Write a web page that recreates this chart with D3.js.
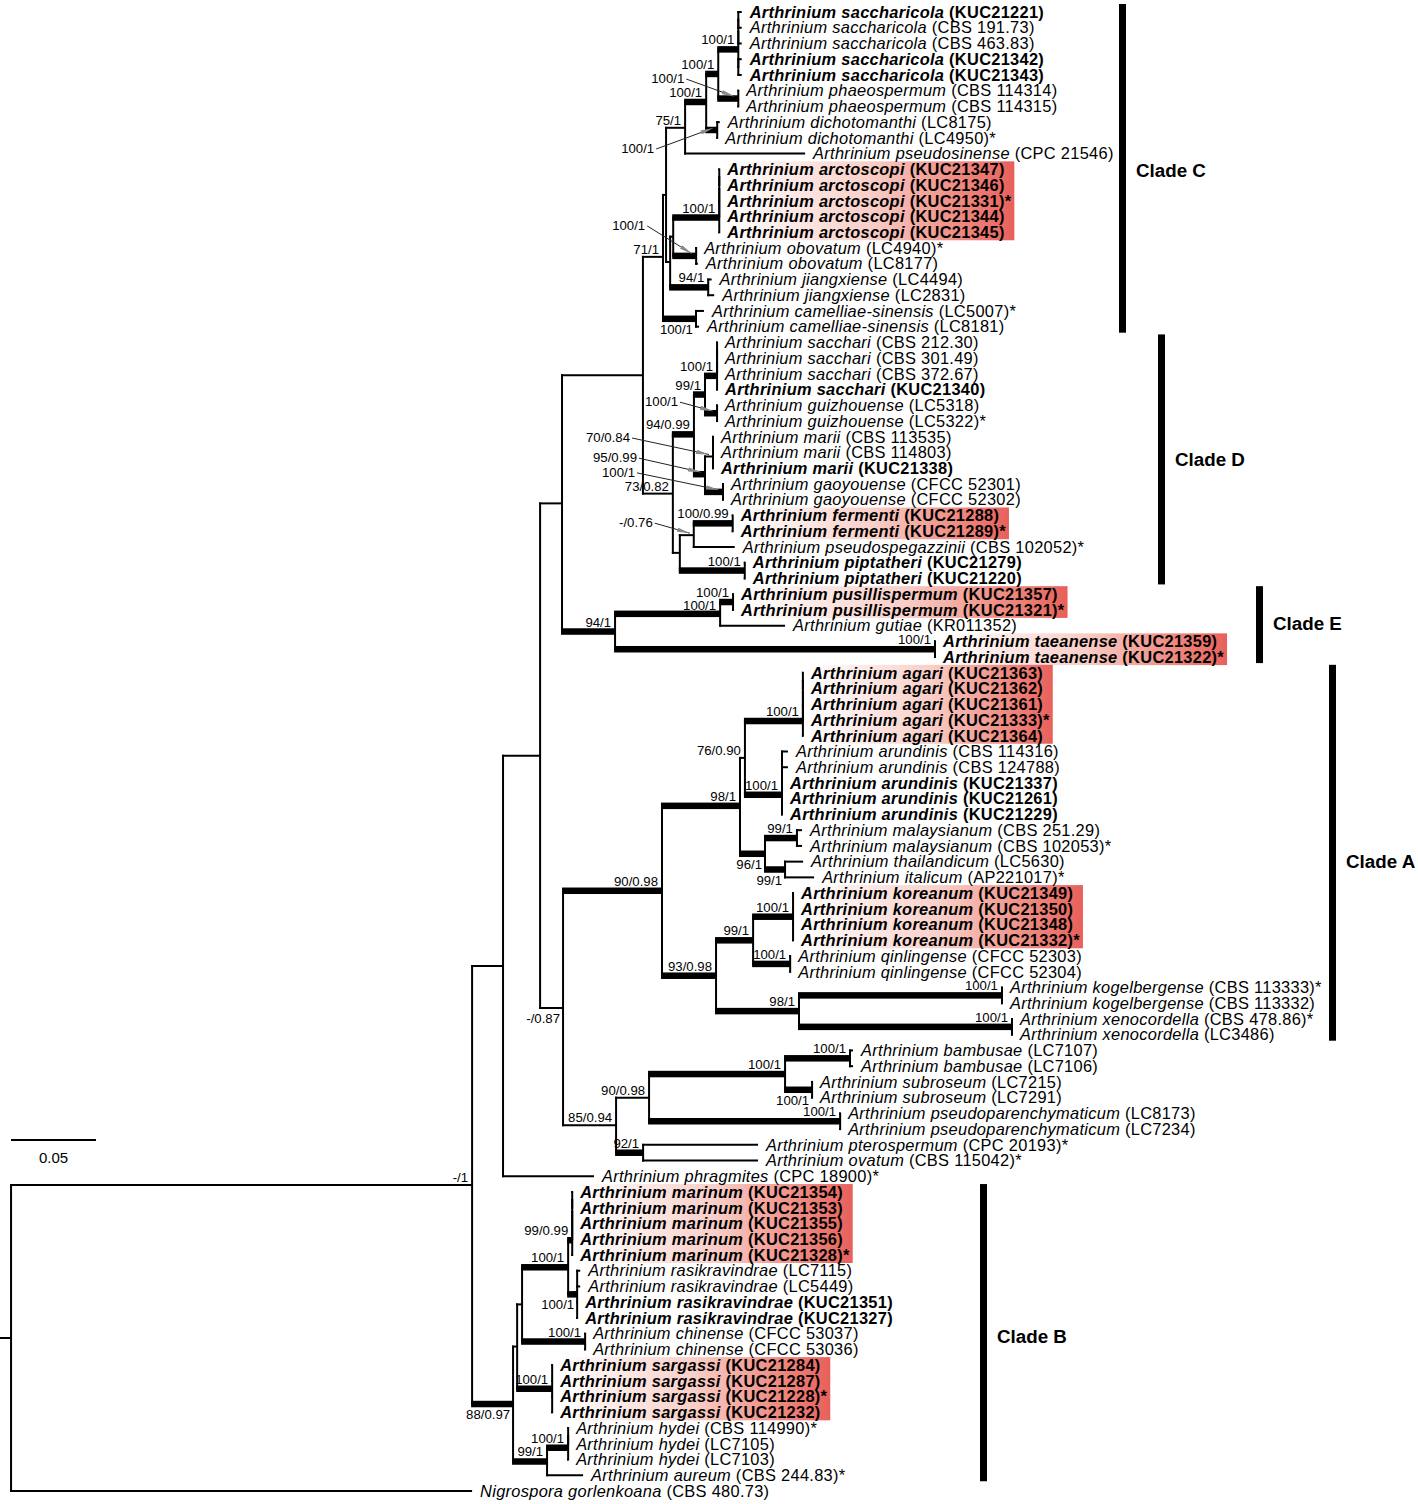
<!DOCTYPE html>
<html><head><meta charset="utf-8">
<script src="https://cdn.jsdelivr.net/npm/d3@7"></script>
<style>body{margin:0;background:#fff}svg{display:block}</style>
</head><body>
<svg id="chart" width="1418" height="1504"></svg>
<script>
// ---------------- DATA ----------------
const species = [
"Arthrinium saccharicola","Arthrinium saccharicola","Arthrinium saccharicola","Arthrinium saccharicola","Arthrinium saccharicola",
"Arthrinium phaeospermum","Arthrinium phaeospermum","Arthrinium dichotomanthi","Arthrinium dichotomanthi","Arthrinium pseudosinense",
"Arthrinium arctoscopi","Arthrinium arctoscopi","Arthrinium arctoscopi","Arthrinium arctoscopi","Arthrinium arctoscopi",
"Arthrinium obovatum","Arthrinium obovatum","Arthrinium jiangxiense","Arthrinium jiangxiense","Arthrinium camelliae-sinensis",
"Arthrinium camelliae-sinensis","Arthrinium sacchari","Arthrinium sacchari","Arthrinium sacchari","Arthrinium sacchari",
"Arthrinium guizhouense","Arthrinium guizhouense","Arthrinium marii","Arthrinium marii","Arthrinium marii",
"Arthrinium gaoyouense","Arthrinium gaoyouense","Arthrinium fermenti","Arthrinium fermenti","Arthrinium pseudospegazzinii",
"Arthrinium piptatheri","Arthrinium piptatheri","Arthrinium pusillispermum","Arthrinium pusillispermum","Arthrinium gutiae",
"Arthrinium taeanense","Arthrinium taeanense","Arthrinium agari","Arthrinium agari","Arthrinium agari",
"Arthrinium agari","Arthrinium agari","Arthrinium arundinis","Arthrinium arundinis","Arthrinium arundinis",
"Arthrinium arundinis","Arthrinium arundinis","Arthrinium malaysianum","Arthrinium malaysianum","Arthrinium thailandicum",
"Arthrinium italicum","Arthrinium koreanum","Arthrinium koreanum","Arthrinium koreanum","Arthrinium koreanum",
"Arthrinium qinlingense","Arthrinium qinlingense","Arthrinium kogelbergense","Arthrinium kogelbergense","Arthrinium xenocordella",
"Arthrinium xenocordella","Arthrinium bambusae","Arthrinium bambusae","Arthrinium subroseum","Arthrinium subroseum",
"Arthrinium pseudoparenchymaticum","Arthrinium pseudoparenchymaticum","Arthrinium pterospermum","Arthrinium ovatum","Arthrinium phragmites",
"Arthrinium marinum","Arthrinium marinum","Arthrinium marinum","Arthrinium marinum","Arthrinium marinum",
"Arthrinium rasikravindrae","Arthrinium rasikravindrae","Arthrinium rasikravindrae","Arthrinium rasikravindrae","Arthrinium chinense",
"Arthrinium chinense","Arthrinium sargassi","Arthrinium sargassi","Arthrinium sargassi","Arthrinium sargassi",
"Arthrinium hydei","Arthrinium hydei","Arthrinium hydei","Arthrinium aureum","Nigrospora gorlenkoana"
];
const strains = [
"KUC21221","CBS 191.73","CBS 463.83","KUC21342","KUC21343",
"CBS 114314","CBS 114315","LC8175","LC4950","CPC 21546",
"KUC21347","KUC21346","KUC21331","KUC21344","KUC21345",
"LC4940","LC8177","LC4494","LC2831","LC5007",
"LC8181","CBS 212.30","CBS 301.49","CBS 372.67","KUC21340",
"LC5318","LC5322","CBS 113535","CBS 114803","KUC21338",
"CFCC 52301","CFCC 52302","KUC21288","KUC21289","CBS 102052",
"KUC21279","KUC21220","KUC21357","KUC21321","KR011352",
"KUC21359","KUC21322","KUC21363","KUC21362","KUC21361",
"KUC21333","KUC21364","CBS 114316","CBS 124788","KUC21337",
"KUC21261","KUC21229","CBS 251.29","CBS 102053","LC5630",
"AP221017","KUC21349","KUC21350","KUC21348","KUC21332",
"CFCC 52303","CFCC 52304","CBS 113333","CBS 113332","CBS 478.86",
"LC3486","LC7107","LC7106","LC7215","LC7291",
"LC8173","LC7234","CPC 20193","CBS 115042","CPC 18900",
"KUC21354","KUC21353","KUC21355","KUC21356","KUC21328",
"LC7115","LC5449","KUC21351","KUC21327","CFCC 53037",
"CFCC 53036","KUC21284","KUC21287","KUC21228","KUC21232",
"CBS 114990","LC7105","LC7103","CBS 244.83","CBS 480.73"
];
// leaves (1-based) that are ex-type strains (marked with *)
const typeStrains = [9,13,16,20,27,34,35,39,42,46,54,56,60,63,65,73,74,75,80,89,91,94];
// newly described species (highlighted)
const newSpecies = ["Arthrinium arctoscopi","Arthrinium fermenti","Arthrinium pusillispermum","Arthrinium taeanense",
  "Arthrinium agari","Arthrinium koreanum","Arthrinium marinum","Arthrinium sargassi"];
// clades: first and last leaf (1-based)
const cladeNames = ["Clade C","Clade D","Clade E","Clade A","Clade B"];
const cladeFirst = [1,22,38,43,76];
const cladeLast  = [21,37,42,66,94];
const scaleBarValue = 0.05;

// Tree topology (Newick): leaves are leaf numbers; internal labels = ML/BPP support,
// "#" = strongly supported (bold branch), "@id" = node id
const cladeC_top = "((((((1:0.002,2:0.002),3:0.002),(4:0.002,5:0.002))#100/1:0.0118,(6,7)#100/1@pha:0.0118)#100/1:0.0071,(8:0.0015,9)#100/1@dic:0.0065)#100/1:0.0124,10:0.0706)75/1:0.0112";
const cladeC_mid = "((((((11,12),13),14),15)#100/1:0.0271,(16,17:0.001)#100/1@obo:0.0135):0.0018,(18:0.002,19:0.0035)#94/1:0.0224):0.0024";
const cladeC = `((${cladeC_top},${cladeC_mid}):0.0018,(20:0.0047,21:0.0018)#100/1@cam:0.0194)71/1:0.0118`;
const cladeD_top = "((((22,23),24),25)#100/1:0.0071,(26,27)#100/1@gui:0.0071)#99/1:0.0065";
const cladeD_mid = "(((28,29),30)70/0.84@mar:0.0047,(31,32)#100/1@gao:0.0106)#95/0.99@m95:0.0065";
const cladeD_low = "(((33,34)#100/0.99:0.0229,35:0.0241)-/0.76@f76:0.0082,(36,37)#100/1:0.0382):0.0041";
const cladeD = `((${cladeD_top},${cladeD_mid})#94/0.99:0.0124,${cladeD_low})73/0.82:0.0176`;
const cladeE = "(((38,39)#100/1:0.0076,40:0.0382)#100/1@pg:0.0618,(41,42)#100/1:0.1882)#94/1:0.0312";
const cladeA_top = "(((((43,44),45),46),47)#100/1:0.0341,(((48:0.0035,49:0.0035),(50,51)),52)#100/1:0.0218)76/0.90:0.0029";
const cladeA_mid = "((53:0.003,54:0.003)#99/1:0.0188,(55:0.0106,56:0.0171)#99/1@ti:0.0118)#96/1@m96:0.0147";
const cladeA_low = "(((57,58,59,60)#100/1:0.0235,(61,62)#100/1:0.0218)#99/1:0.0218,((63,64)#100/1:0.1194,(65,66)#100/1:0.1253)#98/1:0.0488)#93/0.98:0.0318";
const cladeA = `((${cladeA_top},${cladeA_mid})#98/1:0.0459,${cladeA_low})#90/0.98:0.0582`;
const otherClade = "((((67:0.0018,68:0.0018)#100/1:0.0382,(69,70)#100/1@sub:0.0159)#100/1:0.08,(71,72)#100/1:0.1124)90/0.98:0.0194,(73:0.0676,74:0.0676)#92/1:0.0159)85/0.94:0.0312";
const cladeB_top = "((((((76,77),78),79),80)#99/0.99:0.0024,(81:0.0018,82:0.0018,83,84)#100/1@ras:0.0053)#100/1:0.0271,(85,86)#100/1:0.0371):0.0029";
const cladeB = `((${cladeB_top},(87,88,89,90)#100/1:0.0206):0.0024,(((91,92),93)#100/1:0.0124,94:0.0212)#99/1:0.02)#88/0.97@b88:0.0241`;
const backbone = `(((((${cladeC},${cladeD}):0.0476,${cladeE}):0.0129,(${cladeA},${otherClade})-/0.87@n87:0.0135):0.0218,75:0.0535):0.0182,${cladeB})-/1:0.2712`;
const newick = `(${backbone},95:0.2712):0.0065;`;

// ---------------- LAYOUT ----------------
const layout = {
  leafTop: 12, leafBottom: 1491,
  scaleBarPx: 85,
  labelGap: 8,
  thin: 2, thick: 6.5,
  leafFont: 16.4, leafSpacing: 0.3, supportFont: 13.2, cladeFont: 18.8,
  cladeBarX: {"Clade C":1119,"Clade D":1158,"Clade E":1256,"Clade A":1329,"Clade B":980},
  cladeLabelDy: {"Clade C":2,"Clade D":0,"Clade E":-1,"Clade A":9,"Clade B":4},
  callouts: {pha:[-54,-15.5], dic:[-63,23], obo:[-51,-26], gui:[-39,-7], mar:[-83,-14.5], m95:[-68,-12], gao:[-88,-15], f76:[-41,-8]},
  below: ["cam","n87","b88","m96","ti","sub","ras"],
  scaleBar: {x:11, y:1140}
};
const FONT = "'Liberation Sans', Arial, Helvetica, sans-serif";

function parseNewick(s){
  let i = 0;
  function node(){
    const n = {};
    if (s[i] === "("){
      i++; n.children = [node()];
      while (s[i] === ","){ i++; n.children.push(node()); }
      i++;
    }
    let lab = "";
    while (i < s.length && !",():;".includes(s[i])) lab += s[i++];
    n.label = lab;
    n.length = 0;
    if (s[i] === ":"){ i++; let l = ""; while (i < s.length && !",();".includes(s[i])) l += s[i++]; n.length = +l; }
    return n;
  }
  return node();
}

const svg = d3.select("#chart").style("font-family", FONT);
const defs = svg.append("defs");
const grad = defs.append("linearGradient").attr("id","hl").attr("x1","0").attr("x2","1").attr("y1","0").attr("y2","0");
[[0,"#ffffff"],[0.5,"#f9cfc8"],[0.8,"#ef8c82"],[1,"#e8605a"]].forEach(([o,c]) => grad.append("stop").attr("offset",o).attr("stop-color",c));
defs.append("marker").attr("id","arrow").attr("viewBox","0 0 12 4").attr("refX",12).attr("refY",2)
  .attr("markerWidth",13).attr("markerHeight",4.5).attr("markerUnits","userSpaceOnUse").attr("orient","auto")
  .append("path").attr("d","M0,0L12,2L0,4Z").attr("fill","#8a8a8a");

const root = d3.hierarchy(parseNewick(newick));
const xScale = d3.scaleLinear().domain([0, scaleBarValue]).range([0, layout.scaleBarPx]);
const yScale = d3.scaleLinear().domain([1, species.length]).range([layout.leafTop, layout.leafBottom]);

root.eachBefore(n => {
  n.len = (n.parent ? n.parent.len : 0) + n.data.length;
  n.px = xScale(n.len);
  if (n.children){
    let lab = n.data.label || "";
    n.thick = lab.startsWith("#");
    if (n.thick) lab = lab.slice(1);
    const parts = lab.split("@");
    n.support = parts[0]; n.id = parts[1] || null;
  } else {
    n.leaf = +n.data.label;
  }
});
root.eachAfter(n => {
  n.py = n.children ? (n.children[0].py + n.children[n.children.length-1].py) / 2 : yScale(n.leaf);
});

const gHi = svg.append("g");
const gTree = svg.append("g");
const gText = svg.append("g");

// root stem
gTree.append("line").attr("x1", xScale(0)).attr("x2", root.px).attr("y1", root.py).attr("y2", root.py)
  .attr("stroke","#000").attr("stroke-width", layout.thin);

root.descendants().forEach(n => {
  if (n.parent){
    const x0 = n.parent.px - 1, x1 = n.px;
    if (n.thick){
      gTree.append("rect").attr("x", x0).attr("y", n.py - layout.thick/2).attr("width", Math.max(0, x1 - x0))
        .attr("height", layout.thick).attr("fill","#000");
    } else {
      gTree.append("line").attr("x1", x0).attr("x2", x1).attr("y1", n.py).attr("y2", n.py)
        .attr("stroke","#000").attr("stroke-width", layout.thin);
    }
  }
  if (n.children){
    const c0 = n.children[0], c1 = n.children[n.children.length-1];
    gTree.append("line").attr("x1", n.px).attr("x2", n.px).attr("y1", c0.py - 1).attr("y2", c1.py + 1)
      .attr("stroke","#000").attr("stroke-width", layout.thin);
  }
});

// support labels
root.descendants().filter(n => n.children && n.support).forEach(n => {
  const t = gText.append("text").attr("text-anchor","end").style("font-size", layout.supportFont + "px").text(n.support);
  if (n.id && layout.callouts[n.id]){
    const [dx, dy] = layout.callouts[n.id];
    const lx = n.px + dx, ly = n.py + dy;
    t.attr("x", lx).attr("y", ly);
    gText.append("line").attr("x1", lx + 2).attr("y1", ly - 4).attr("x2", n.px - 4).attr("y2", n.py - 2)
      .attr("stroke","#222").attr("stroke-width",1).attr("marker-end","url(#arrow)");
  } else if (n.id && layout.below.includes(n.id)){
    t.attr("x", n.px - 3).attr("y", n.py + 15);
  } else {
    t.attr("x", n.px - 4).attr("y", n.py - (n.thick ? 5 : 3) + (n.id === "pg" ? 1.5 : 0));
  }
});

// leaf labels
const leafText = {};
root.leaves().forEach(n => {
  const i = n.leaf - 1;
  const bold = strains[i].startsWith("KUC");
  const w = bold ? "bold" : "normal";
  const t = gText.append("text").attr("x", n.px + layout.labelGap).attr("y", n.py).attr("dy","0.35em")
    .style("font-size", layout.leafFont + "px").style("letter-spacing", layout.leafSpacing + "px").attr("fill","#000");
  t.append("tspan").style("font-style","italic").style("font-weight", w).text(species[i]);
  t.append("tspan").style("font-weight", w).text(" (" + strains[i] + ")");
  if (typeStrains.includes(n.leaf)) t.append("tspan").style("font-weight", w).text("*");
  leafText[n.leaf] = {node: n, el: t.node()};
});

// highlight boxes for new species
newSpecies.forEach(sp => {
  const idx = species.map((s,i) => s === sp ? i + 1 : -1).filter(v => v > 0);
  const first = d3.min(idx), last = d3.max(idx);
  let x0 = Infinity, x1 = -Infinity;
  idx.forEach(k => {
    const e = leafText[k].el; const bx = +e.getAttribute("x");
    x0 = Math.min(x0, bx); x1 = Math.max(x1, bx + e.getComputedTextLength());
  });
  gHi.append("rect").attr("x", x0 - 2).attr("y", yScale(first) - 8).attr("width", x1 - x0 + 5)
    .attr("height", yScale(last) - yScale(first) + 16).attr("fill","url(#hl)");
});

// clade bars
cladeNames.forEach((name, k) => {
  const bx = layout.cladeBarX[name];
  const y0 = yScale(cladeFirst[k]) - 8, y1 = yScale(cladeLast[k]) + 6;
  gText.append("rect").attr("x", bx).attr("y", y0).attr("width", 7).attr("height", y1 - y0).attr("fill","#000");
  gText.append("text").attr("x", bx + 17).attr("y", (y0 + y1)/2 + layout.cladeLabelDy[name]).attr("dy","0.35em")
    .style("font-size", layout.cladeFont + "px").style("font-weight","bold").text(name);
});

// scale bar
const sb = layout.scaleBar;
gText.append("line").attr("x1", sb.x).attr("x2", sb.x + xScale(scaleBarValue) - xScale(0)).attr("y1", sb.y).attr("y2", sb.y)
  .attr("stroke","#000").attr("stroke-width", 2);
gText.append("text").attr("x", sb.x + (xScale(scaleBarValue) - xScale(0))/2).attr("y", sb.y + 18).attr("dy","0.35em")
  .attr("text-anchor","middle").style("font-size","15px").text(String(scaleBarValue));
</script>
</body></html>
